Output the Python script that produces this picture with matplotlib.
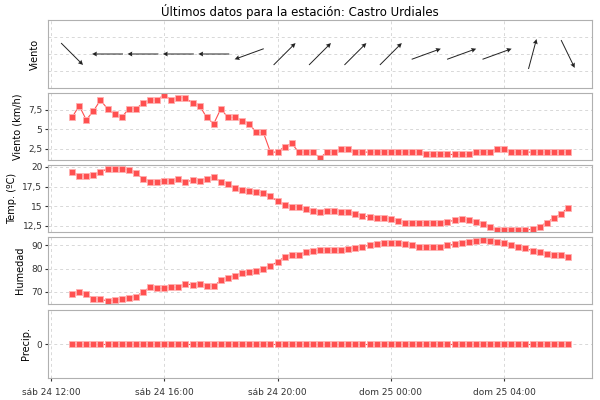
import numpy as np
import matplotlib
matplotlib.use("Agg")
import matplotlib.pyplot as plt
from matplotlib.ticker import FuncFormatter

# time in hours since sáb 24 12:00, every 15 minutes
hours = 0.75 + 0.25 * np.arange(71)
speed = [6.5,8,6.2,7.3,8.7,7.6,6.9,6.5,7.6,7.6,8.3,8.7,8.7,9.4,8.7,9.0,9.0,8.3,8.0,6.5,
         5.7,7.6,6.5,6.5,6.1,5.7,4.6,4.6,2.1,2.1,2.8,3.2,2.1,2.1,2.1,1.4,2.1,2.1,2.5,2.5,
         2.1,2.1,2.1,2.1,2.1,2.1,2.1,2.1,2.1,2.1,1.8,1.8,1.8,1.8,1.8,1.8,1.8,2.1,2.1,2.1,
         2.5,2.5,2.1,2.1,2.1,2.1,2.1,2.1,2.1,2.1,2.1]
temp = [19.4,18.8,18.9,19.0,19.3,19.8,19.8,19.8,19.6,19.2,
        18.5,18.1,18.1,18.2,18.2,18.4,18.1,18.3,18.2,18.5,
        18.7,18.1,17.8,17.3,17.1,16.9,16.8,16.7,16.3,15.6,
        15.2,14.9,14.9,14.6,14.4,14.3,14.4,14.4,14.3,14.2,
        14.0,13.8,13.6,13.5,13.5,13.3,13.1,12.8,12.8,12.9,
        12.9,12.8,12.9,13.0,13.2,13.3,13.2,13.0,12.7,12.3,
        12.0,12.0,12.0,11.9,11.9,12.1,12.4,12.9,13.5,14.0,14.8]
hum = [69,70,69,67,67,66,66.5,67,67.5,68,
       70,72,71.5,71.5,72,72,73.5,73,73.5,72.5,
       72.5,75,76,77,78,78.5,79,80,81,83,
       85,86,86,87,87.5,88,88,88,88,88.5,
       89,89.5,90,90.5,91,91,91,90.5,90,89.5,
       89.5,89.5,89.5,90,90.5,91,91.5,92,92.5,92,
       91.5,91,90,89.5,89,87.5,87,86.5,86,86,85]
precip = [0]*71
# wind arrow direction (screen angle, degrees) every 5th reading
arrow_idx = list(range(0, 71, 5))
arrow_ang = [-45,180,180,180,180,200,45,45,45,45,20,20,20,75,-64]
tick_hours = [0,4,8,12,16]
tick_labels = ["sáb 24 12:00","sáb 24 16:00","sáb 24 20:00","dom 25 00:00","dom 25 04:00"]

red = "#ff5050"
fig = plt.figure(figsize=(6,4), dpi=100)
fig.text(0.5, 0.99, "Últimos datos para la estación: Castro Urdiales", ha="center", va="top", fontsize=8.5)
panels = [(20,88),(93,160),(165,232),(237,304),(310,378)]
axes = []
for t,b in panels:
    ax = fig.add_axes([48/600, 1-b/400, 544/600, (b-t)/400])
    ax.set_xlim(-0.1, 19.1)
    ax.set_xticks(tick_hours)
    ax.grid(True, ls=(0,(3,3)), color="#d8d8d8", lw=0.7)
    ax.set_axisbelow(True)
    for s in ax.spines.values():
        s.set_color("#b0b0b0")
    ax.tick_params(labelsize=6.5, length=2, pad=2, colors="#333333")
    axes.append(ax)
for ax in axes[:-1]:
    ax.set_xticklabels([])
    ax.tick_params(axis="x", length=0)
axes[-1].set_xticklabels(tick_labels)
axes[-1].tick_params(axis="x", pad=5)

comma = FuncFormatter(lambda v, p: ("%g" % v).replace(".", ","))

a0 = axes[0]
a0.set_ylim(0, 4)
a0.set_yticks([1,2,3]); a0.set_yticklabels([]); a0.tick_params(axis="y", length=0)
a0.set_ylabel("Viento", fontsize=7)
ax_x = hours[arrow_idx]
ang = np.radians(arrow_ang)
a0.quiver(ax_x, np.full(len(ax_x), 2.0), np.cos(ang), np.sin(ang), angles="uv",
          pivot="middle", scale_units="inches", scale=1/0.31, width=0.0018,
          headwidth=5, headlength=5, headaxislength=4.5, color="#222222")

def series(ax, y):
    ax.plot(hours, y, color=red, lw=0.8, marker="s", ms=4.5, mfc=red, mec="#ffb0b0", mew=0.6)

series(axes[1], speed)
axes[1].set_ylim(1.1, 9.6); axes[1].set_yticks([2.5,5,7.5])
axes[1].yaxis.set_major_formatter(comma); axes[1].set_ylabel("Viento (km/h)", fontsize=7)
series(axes[2], temp)
axes[2].set_ylim(11.7, 20.25); axes[2].set_yticks([12.5,15,17.5,20])
axes[2].yaxis.set_major_formatter(comma); axes[2].set_ylabel("Temp. (ºC)", fontsize=7)
series(axes[3], hum)
axes[3].set_ylim(64.8, 93.6); axes[3].set_yticks([70,80,90])
axes[3].set_ylabel("Humedad", fontsize=7)
series(axes[4], precip)
axes[4].set_ylim(-1, 1); axes[4].set_yticks([0])
axes[4].set_ylabel("Precip.", fontsize=7)

fig.savefig("out.png", dpi=100)
